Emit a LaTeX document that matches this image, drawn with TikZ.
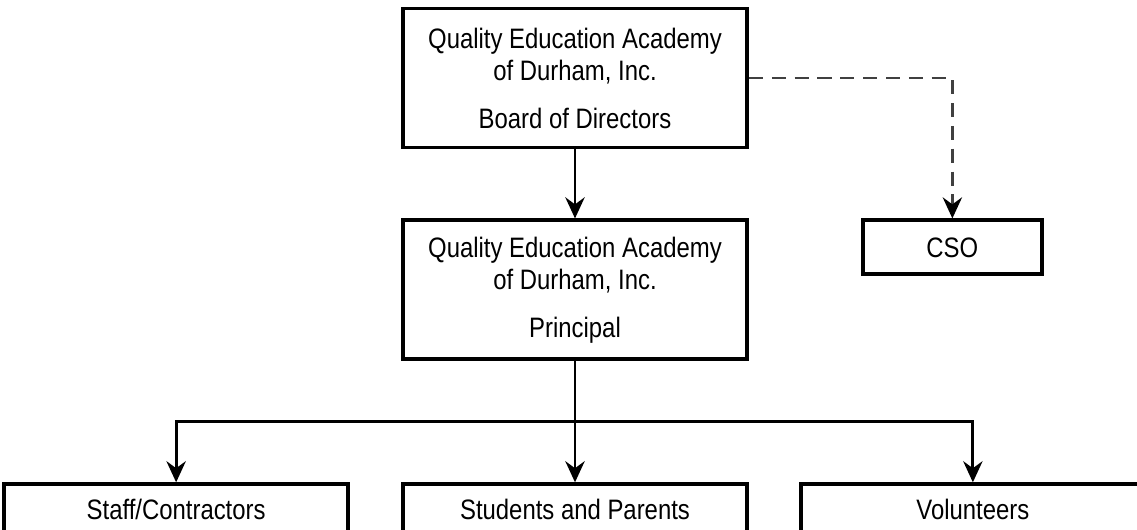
\documentclass[tikz,border=0pt]{standalone}
\usepackage{fontspec}
\setmainfont{Liberation Sans}[FakeStretch=0.85]
\usetikzlibrary{positioning, arrows.meta}
\tikzset{
    >={Stealth[length=12pt, width=11pt, inset=4pt]}, % arrow heads
    node distance=1.38cm, % gap between boxes
    box/.style={draw, line width=2.2pt, align=center, minimum width=6.88cm,
        font=\fontsize{16}{18.5}\selectfont}, % every box of the chart
    link/.style={->, line width=1.6pt}, % solid connector
    dashlink/.style={-{Stealth[length=12pt, width=11pt, inset=4pt, color=black]},
        line width=1.4pt, draw=black!75, dash pattern=on 8pt off 5pt}, % dashed connector
}

\begin{document}
\begin{tikzpicture}
    \useasboundingbox (0,0) rectangle (22.74,10.58);
    \clip (0,0) rectangle (22.74,10.58);

    \node[box, minimum height=2.78cm] (board) at (11.5,9.02)
        {Quality Education Academy\\of Durham, Inc.\\[0.3cm]Board of Directors};
    \node[box, minimum height=2.78cm, below=of board] (principal)
        {Quality Education Academy\\of Durham, Inc.\\[0.3cm]Principal};
    \node[box, minimum width=3.58cm, minimum height=1.08cm,
        right=2.24cm of principal.north east, anchor=north west] (cso) {CSO};

    \node[box, minimum height=1cm, below=2.42cm of principal] (students) {Students and Parents};
    \node[box, minimum height=1cm, left=1.02cm of students] (staff) {Staff/Contractors};
    \node[box, minimum height=1cm, right=1cm of students] (volunteers) {Volunteers};

    \coordinate[below=1.2cm of principal] (split);

    \draw[link] (board) -- (principal);
    \draw[dashlink] (board.east) -| (cso);
    \draw[line width=1.6pt] (principal) -- (split);
    \draw[link] (split) -| (staff);
    \draw[link] (split) -- (students);
    \draw[link] (split) -| (volunteers);
\end{tikzpicture}
\end{document}
